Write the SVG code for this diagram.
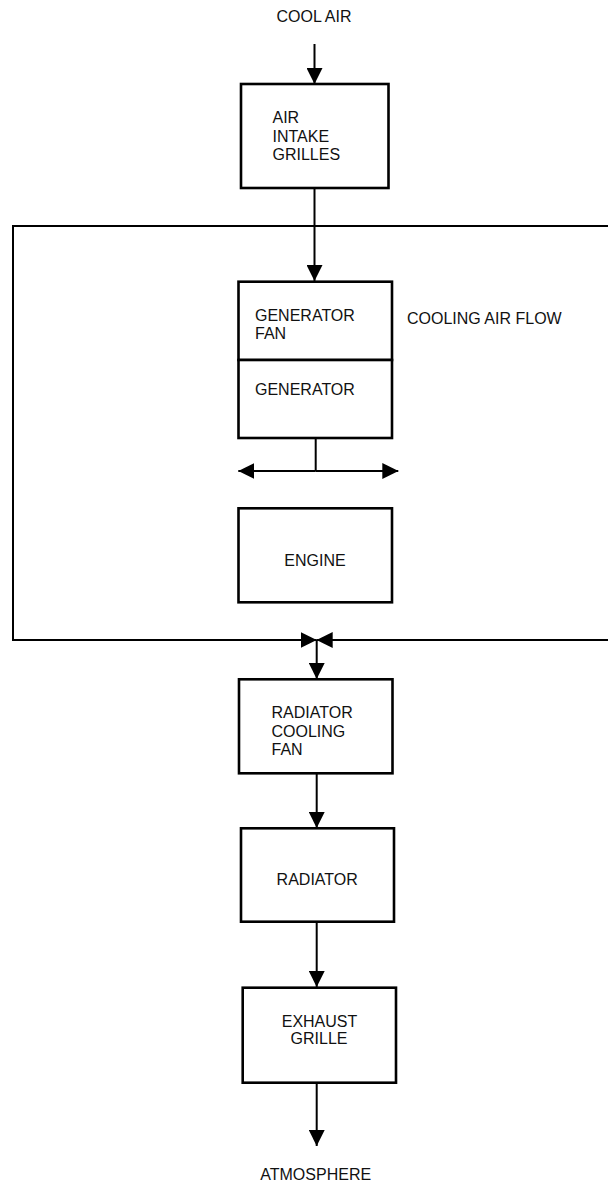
<svg xmlns="http://www.w3.org/2000/svg" width="608" height="1183" viewBox="0 0 608 1183">
<style>
  .box { fill: #fff; stroke: #000; stroke-width: 2.6; }
  .ln { fill: none; stroke: #000; stroke-width: 2; }
  .t { font-family: "Liberation Sans", Arial, sans-serif; font-size: 16px; fill: #111; }
  .c { text-anchor: middle; }
</style>
<defs>
  <marker id="ah" markerUnits="userSpaceOnUse" markerWidth="16" markerHeight="16" refX="16" refY="8" orient="auto">
    <path d="M0,0 L16,8 L0,16 z" fill="#000"/>
  </marker>
</defs>
<rect width="608" height="1183" fill="#fff"/>

<g id="connectors">
  <line class="ln" x1="314.5" y1="44" x2="314.5" y2="84" marker-end="url(#ah)"/>
  <line class="ln" x1="314.5" y1="188" x2="314.5" y2="281" marker-end="url(#ah)"/>
  <path class="ln" d="M610 226 H13 V640 H316.7" marker-end="url(#ah)"/>
  <line class="ln" x1="610" y1="640" x2="316.7" y2="640" marker-end="url(#ah)"/>
  <line class="ln" x1="315.7" y1="438" x2="315.7" y2="471"/>
  <line class="ln" x1="315.7" y1="471" x2="238.3" y2="471" marker-end="url(#ah)"/>
  <line class="ln" x1="315.7" y1="471" x2="398.3" y2="471" marker-end="url(#ah)"/>
  <line class="ln" x1="316.7" y1="640" x2="316.7" y2="679" marker-end="url(#ah)"/>
  <line class="ln" x1="316.7" y1="773" x2="316.7" y2="828" marker-end="url(#ah)"/>
  <line class="ln" x1="316.7" y1="922" x2="316.7" y2="987" marker-end="url(#ah)"/>
  <line class="ln" x1="316.7" y1="1083" x2="316.7" y2="1146" marker-end="url(#ah)"/>
</g>

<g id="cool-air">
  <text class="t c" x="314" y="22">COOL AIR</text>
</g>

<g id="air-intake-grilles">
  <rect class="box" x="241" y="84" width="147.5" height="104"/>
  <text class="t" x="272.5" y="123">AIR</text>
  <text class="t" x="272.5" y="141.5">INTAKE</text>
  <text class="t" x="272.5" y="160">GRILLES</text>
</g>

<g id="cooling-air-flow">
  <text class="t" x="407" y="324">COOLING AIR FLOW</text>
</g>

<g id="generator-fan">
  <rect class="box" x="238.5" y="281.7" width="153.5" height="78.3"/>
  <text class="t" x="255" y="321">GENERATOR</text>
  <text class="t" x="255" y="338.5">FAN</text>
</g>

<g id="generator">
  <rect class="box" x="238.5" y="360" width="153.5" height="78"/>
  <text class="t" x="255" y="395">GENERATOR</text>
</g>

<g id="engine">
  <rect class="box" x="238.5" y="508.3" width="153.5" height="94"/>
  <text class="t c" x="315" y="565.5">ENGINE</text>
</g>

<g id="radiator-cooling-fan">
  <rect class="box" x="239" y="679.3" width="153.5" height="94"/>
  <text class="t" x="271.5" y="718.3">RADIATOR</text>
  <text class="t" x="271.5" y="736.7">COOLING</text>
  <text class="t" x="271.5" y="755">FAN</text>
</g>

<g id="radiator">
  <rect class="box" x="241" y="828.3" width="153" height="93.4"/>
  <text class="t c" x="317.2" y="885">RADIATOR</text>
</g>

<g id="exhaust-grille">
  <rect class="box" x="242.7" y="987.7" width="153.3" height="95"/>
  <text class="t c" x="319.5" y="1026.7">EXHAUST</text>
  <text class="t c" x="319" y="1044.3">GRILLE</text>
</g>

<g id="atmosphere">
  <text class="t c" x="315.7" y="1180">ATMOSPHERE</text>
</g>
</svg>
